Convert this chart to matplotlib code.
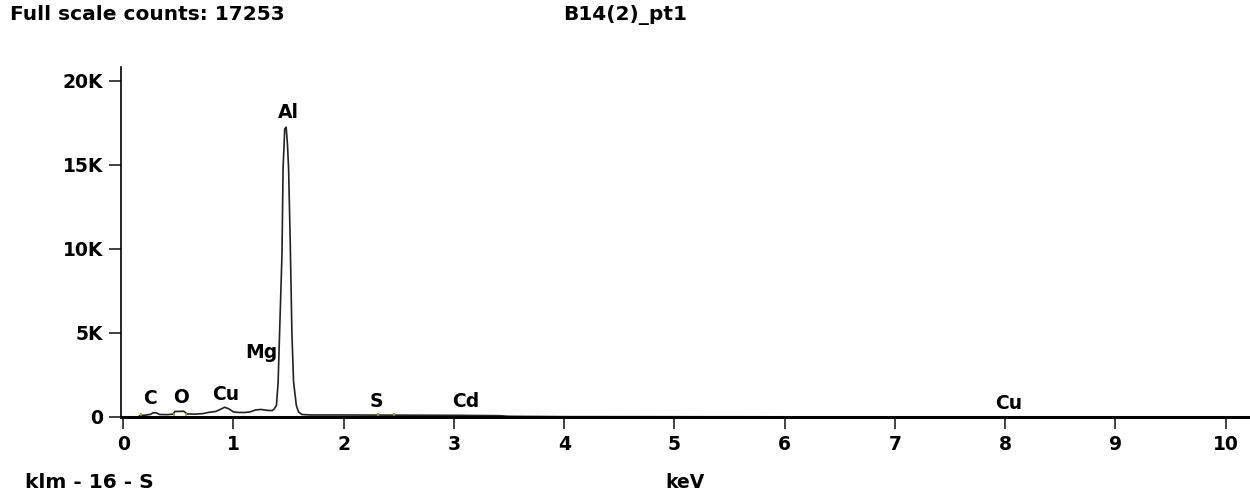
import matplotlib
matplotlib.use("Agg")
import matplotlib.pyplot as plt

# EDS spectrum (keV, counts)
energy_kev = [0.00, 0.14, 0.15, 0.20, 0.25, 0.27, 0.30, 0.33, 0.40, 0.45, 0.47, 0.55, 0.58,
              0.65, 0.72, 0.78, 0.84, 0.88, 0.92, 0.96, 1.00, 1.05, 1.10, 1.15, 1.20, 1.25,
              1.30, 1.35, 1.37, 1.39, 1.405, 1.42, 1.44, 1.45, 1.465, 1.478, 1.49, 1.50,
              1.515, 1.53, 1.545, 1.57, 1.59, 1.62, 1.70, 2.00, 2.50, 3.00, 3.40, 3.50,
              4.00, 6.00, 10.22]
counts = [0, 0, 90, 110, 160, 250, 250, 150, 140, 170, 330, 340, 180,
          170, 200, 280, 330, 450, 580, 480, 300, 270, 270, 300, 420, 450,
          400, 380, 480, 700, 2050, 5350, 9650, 14800, 17150, 17253, 16200, 14800,
          10400, 5000, 2100, 700, 300, 150, 120, 120, 110, 100, 80, 40,
          20, 10, 5]

# element labels (position in keV, height in counts)
elements = ["C", "O", "Cu", "Mg", "Al", "S", "Cd", "Cu"]
elem_kev = [0.245, 0.526, 0.925, 1.25, 1.50, 2.30, 3.11, 8.03]
elem_cnt = [1130, 1190, 1310, 3810, 18100, 950, 950, 830]

# small ROI marks on the baseline
roi_kev = [0.16, 0.46, 0.57, 2.31, 2.46]

x_ticks = [0, 1, 2, 3, 4, 5, 6, 7, 8, 9, 10]
y_ticks = [0, 5000, 10000, 15000, 20000]
y_labels = ["0", "5K", "10K", "15K", "20K"]

plt.rcParams['font.family'] = ['DejaVu Sans']
plt.rcParams['font.weight'] = 'bold'
fs = 13.5
fs_head = 14.5

fig = plt.figure(figsize=(12.5, 4.95), dpi=100)
ax = fig.add_axes([121/1250, 78/495, 1 - 121/1250, 350/495])

ax.plot(energy_kev, counts, color='#222222', lw=1.2)
ax.vlines(roi_kev, 60, 230, color='#a0a030', lw=1.2)

for name, xk, yc in zip(elements, elem_kev, elem_cnt):
    ax.text(xk, yc, name, ha='center', va='center', fontsize=fs, fontweight='bold')

ax.set_xlim(-0.02, 10.22)
ax.set_ylim(0, 20833)
ax.set_xticks(x_ticks)
ax.set_xticklabels([str(t) for t in x_ticks], fontsize=fs, fontweight='bold')
ax.set_yticks(y_ticks)
ax.set_yticklabels(y_labels, fontsize=fs, fontweight='bold')
ax.tick_params(axis='both', direction='out', length=8.6, width=1.2, color='#222222', pad=4)

ax.spines['top'].set_visible(False)
ax.spines['right'].set_visible(False)
ax.spines['left'].set_linewidth(1.2)
ax.spines['bottom'].set_linewidth(2.2)
ax.patch.set_visible(False)

fig.text(10/1250, 1 - 15/495, "Full scale counts: 17253", ha='left', va='center', fontsize=fs_head, fontweight='bold')
fig.text(625/1250, 1 - 15/495, "B14(2)_pt1", ha='center', va='center', fontsize=fs_head, fontweight='bold')
fig.text(25/1250, 1 - 482/495, "klm - 16 - S", ha='left', va='center', fontsize=fs_head, fontweight='bold')
fig.text(685/1250, 1 - 482/495, "keV", ha='center', va='center', fontsize=fs, fontweight='bold')

fig.savefig("out.png", dpi=100)
